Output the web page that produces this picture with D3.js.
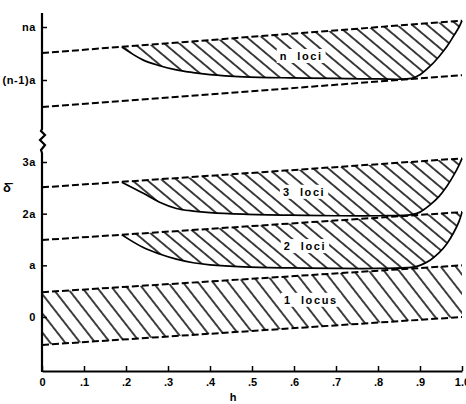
<!DOCTYPE html>
<html>
<head>
<meta charset="utf-8">
<script src="https://cdn.jsdelivr.net/npm/d3@7"></script>
<style>
body { margin: 0; background: #fff; }
svg { display: block; }
text { font-family: "Liberation Sans", Arial, sans-serif; font-weight: bold; fill: #000; }
</style>
</head>
<body>
<div id="chart"></div>
<script>
'use strict';

// h axis
var hTicks = [0, .1, .2, .3, .4, .5, .6, .7, .8, .9, 1];
var hTickLabels = ['0', '.1', '.2', '.3', '.4', '.5', '.6', '.7', '.8', '.9', '1.0'];

// delta axis: lower part in units of a, upper part measured from (n-1)a
var lowTicks = [0, 1, 2, 3];
var lowTickLabels = ['0', 'a', '2a', '3a'];
var topTicks = [0, 1];
var topTickLabels = ['(n-1)a', 'na'];

var bandNames = ['1 locus', '2 loci', '3 loci', 'n loci'];

// dashed bounds, value at h = 0 and h = 1
var lineH = [0, 1];
var oneLocusLower = [-0.54, 0.0];
var oneLocusUpper = [0.48, 1.0];
var twoLociUpper = [1.49, 2.03];
var threeLociUpper = [2.51, 3.07];
var nLociLower = [-0.51, 0.09];
var nLociUpper = [0.51, 1.12];

// solid lower edge of the hatched regions
var curveH = [0.19, 0.24, 0.28, 0.32, 0.36, 0.40, 0.48, 0.59, 0.70, 0.80, 0.88, 0.90, 0.924, 0.945, 0.964, 0.98, 0.993, 1.0];
var twoLociCurve = [1.59, 1.35, 1.22, 1.12, 1.05, 1.01, 0.97, 0.95, 0.94, 0.94, 0.96, 1.00, 1.10, 1.24, 1.42, 1.63, 1.85, 2.03];
var threeLociCurve = [2.61, 2.40, 2.22, 2.10, 2.05, 2.02, 1.99, 1.97, 1.96, 1.96, 1.98, 2.03, 2.17, 2.33, 2.53, 2.74, 2.94, 3.07];
var nLociCurve = [0.62, 0.38, 0.27, 0.19, 0.14, 0.10, 0.06, 0.04, 0.03, 0.02, 0.03, 0.10, 0.26, 0.44, 0.63, 0.83, 1.00, 1.12];

function render() {
  var width = 466;
  var height = 404;

  var x = d3.scaleLinear().domain([0, 1]).range([42, 462]);
  var yLow = d3.scaleLinear().domain([0, 3]).range([317, 162]);
  var yTop = d3.scaleLinear().domain([0, 1]).range([80, 27]);

  d3.select('#chart').selectAll('svg').remove();
  var svg = d3.select('#chart').append('svg')
    .attr('width', width)
    .attr('height', height);

  var defs = svg.append('defs');
  // hatching patterns: [id, angle below horizontal, horizontal spacing]
  [['hatchSteep', 52, 15], ['hatch', 40, 15]].forEach(function(p) {
    var s = p[2] * Math.sin(p[1] * Math.PI / 180);
    var pat = defs.append('pattern')
      .attr('id', p[0])
      .attr('patternUnits', 'userSpaceOnUse')
      .attr('width', s)
      .attr('height', 20)
      .attr('patternTransform', 'rotate(' + (-(90 - p[1])) + ')');
    pat.append('line')
      .attr('x1', s / 2).attr('x2', s / 2)
      .attr('y1', -1).attr('y2', 21)
      .attr('stroke', '#000')
      .attr('stroke-width', 1.5);
  });

  function straight(vals, y) {
    return d3.line().x(function(d, i) { return x(lineH[i]); }).y(function(d) { return y(d); })(vals);
  }
  function curvePath(vals, y) {
    return d3.line().curve(d3.curveCatmullRom.alpha(0.5))
      .x(function(d, i) { return x(curveH[i]); })
      .y(function(d) { return y(d); })(vals);
  }

  // hatched regions
  var band1 = [[0, oneLocusUpper[0]], [1, oneLocusUpper[1]], [1, oneLocusLower[1]], [0, oneLocusLower[0]]];
  svg.append('path')
    .attr('d', d3.line().x(function(d) { return x(d[0]); }).y(function(d) { return yLow(d[1]); })(band1) + 'Z')
    .attr('fill', 'url(#hatchSteep)');

  [[twoLociCurve, yLow], [threeLociCurve, yLow], [nLociCurve, yTop]].forEach(function(c) {
    svg.append('path')
      .attr('d', curvePath(c[0], c[1]) + 'Z')
      .attr('fill', 'url(#hatch)');
  });

  // band labels with white knock-out
  var labelPos = [[0.64, 0.33, yLow], [0.626, 1.37, yLow], [0.624, 2.42, yLow], [0.617, 0.45, yTop]];
  bandNames.forEach(function(name, i) {
    var g = svg.append('g');
    var t = g.append('text')
      .attr('x', x(labelPos[i][0]))
      .attr('y', labelPos[i][2](labelPos[i][1]))
      .attr('dy', '0.35em')
      .attr('text-anchor', 'middle')
      .attr('font-size', 11)
      .attr('letter-spacing', 1.6)
      .attr('xml:space', 'preserve')
      .text(name.replace(' ', '  '));
    var b = t.node().getBBox();
    g.insert('rect', 'text')
      .attr('x', b.x - 3).attr('y', b.y - 1)
      .attr('width', b.width + 6).attr('height', b.height + 2)
      .attr('fill', '#fff');
  });

  // dashed bounds
  [[oneLocusLower, yLow], [oneLocusUpper, yLow], [twoLociUpper, yLow], [threeLociUpper, yLow],
   [nLociLower, yTop], [nLociUpper, yTop]].forEach(function(l) {
    svg.append('path')
      .attr('d', straight(l[0], l[1]))
      .attr('fill', 'none')
      .attr('stroke', '#000')
      .attr('stroke-width', 2)
      .attr('stroke-dasharray', '7,3');
  });

  // solid curves
  [[twoLociCurve, yLow], [threeLociCurve, yLow], [nLociCurve, yTop]].forEach(function(c) {
    svg.append('path')
      .attr('d', curvePath(c[0], c[1]))
      .attr('fill', 'none')
      .attr('stroke', '#000')
      .attr('stroke-width', 1.7);
  });

  // x axis
  var xAxis = svg.append('g')
    .attr('transform', 'translate(0,371)')
    .call(d3.axisBottom(x)
      .tickValues(hTicks)
      .tickFormat(function(d, i) { return hTickLabels[i]; })
      .tickSizeInner(-5)
      .tickSizeOuter(0)
      .tickPadding(7));
  xAxis.select('.domain').attr('stroke-width', 2.2);
  xAxis.selectAll('.tick line').attr('stroke-width', 1.5);
  xAxis.selectAll('text').attr('font-size', 11).attr('font-family', null);

  // y axis, two parts with a break
  function yAx(scale, vals, labels) {
    var g = svg.append('g')
      .attr('transform', 'translate(42,0)')
      .call(d3.axisLeft(scale)
        .tickValues(vals)
        .tickFormat(function(d, i) { return labels[i]; })
        .tickSizeInner(-5)
        .tickSizeOuter(0)
        .tickPadding(6));
    g.select('.domain').remove();
    g.selectAll('.tick line').attr('stroke-width', 1.5);
    g.selectAll('text').attr('font-size', 11).attr('font-family', null).attr('letter-spacing', 0.6);
  }
  yAx(yLow, lowTicks, lowTickLabels);
  yAx(yTop, topTicks, topTickLabels);

  svg.append('path')
    .attr('d', 'M42,372 L42,153 L41,150 L45,145 L40,140 L45,135 L41,131 L42,129 L42,13')
    .attr('fill', 'none')
    .attr('stroke', '#000')
    .attr('stroke-width', 2.2);

  svg.append('text')
    .attr('x', 233).attr('y', 401)
    .attr('text-anchor', 'middle')
    .attr('font-size', 11)
    .text('h');

  svg.append('text')
    .attr('x', 7).attr('y', 192)
    .attr('text-anchor', 'middle')
    .attr('font-size', 13)
    .text('\u03b4\u0304');
}

render();
</script>
</body>
</html>
